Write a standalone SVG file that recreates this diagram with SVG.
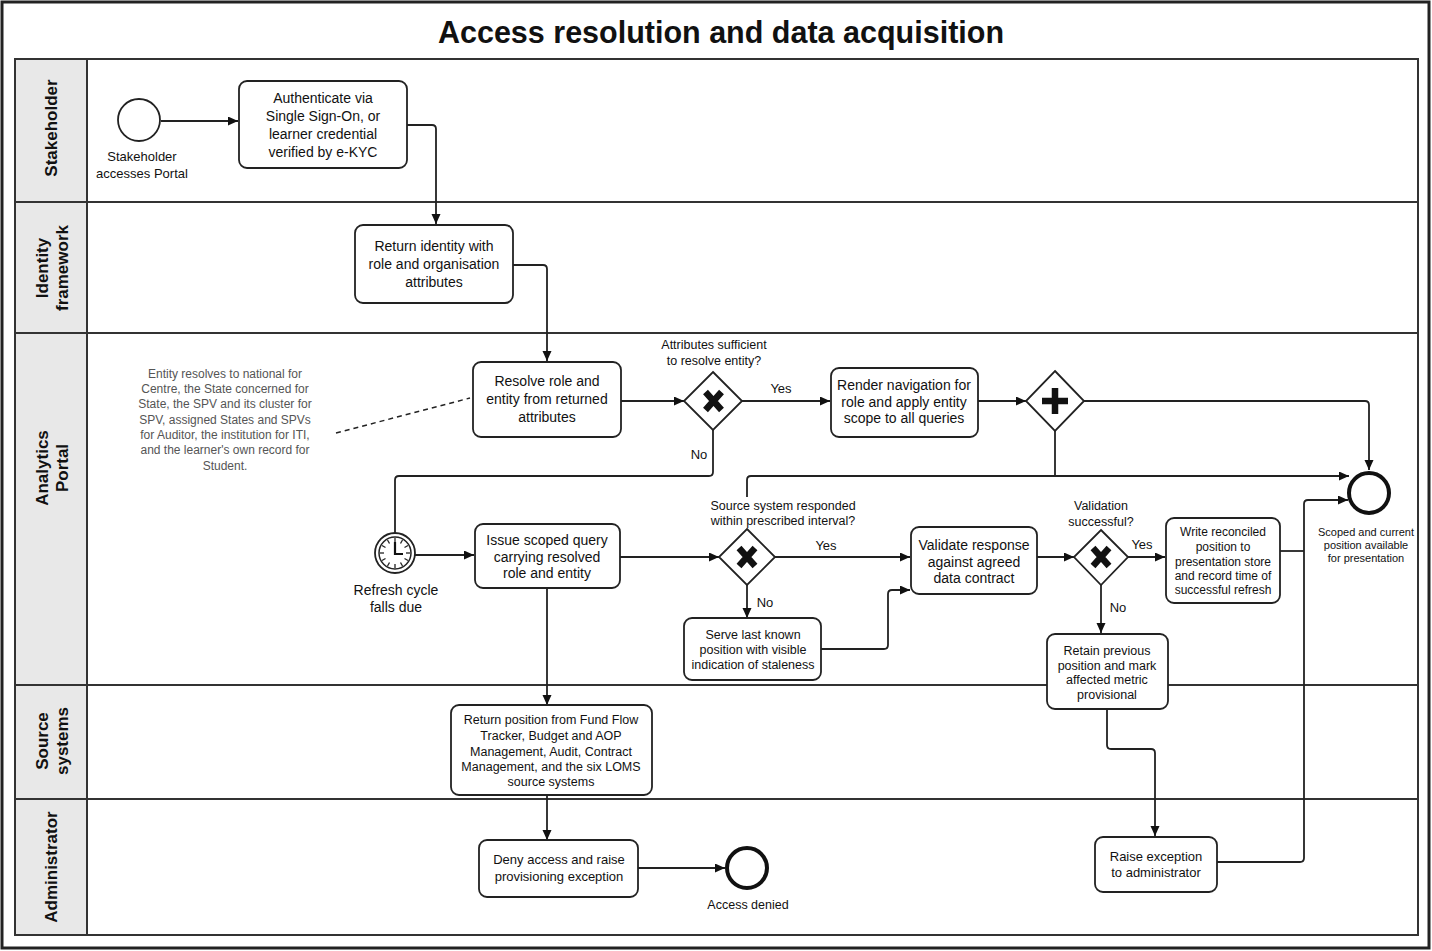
<svg xmlns="http://www.w3.org/2000/svg" width="1432" height="951" viewBox="0 0 1432 951">
<style>
text{font-family:"Liberation Sans",Arial,sans-serif;fill:#111;text-anchor:middle}
.title{font-size:30.5px;font-weight:bold}
.lane{font-size:17px;font-weight:bold}
.t14{font-size:14px}
.t13{font-size:13px}
.t125{font-size:12.5px}
.t12{font-size:12px}
.t11{font-size:11px}
.note{font-size:12px;fill:#555}
.box{fill:#fff;stroke:#222;stroke-width:1.8}
.gw{fill:#fff;stroke:#222;stroke-width:1.8}
.mk{stroke:#111;stroke-width:6.5;fill:none}
.ev{fill:#fff;stroke:#222;stroke-width:1.8}
.end{fill:#fff;stroke:#111;stroke-width:4}
.c{fill:none;stroke:#222;stroke-width:1.8}
.a{marker-end:url(#arr)}
</style>
<defs>
<marker id="arr" markerUnits="userSpaceOnUse" markerWidth="11" markerHeight="10" refX="10" refY="4.5" orient="auto">
<path d="M0,0 L10,4.5 L0,9 z" fill="#111"/>
</marker>
</defs>
<rect x="2" y="2" width="1427" height="946" fill="#fff" stroke="#222" stroke-width="3"/>
<text class="title" x="721" y="43">Access resolution and data acquisition</text>
<g id="pool">
<rect x="15" y="59" width="1403" height="876" fill="#fff" stroke="#333" stroke-width="2"/>
<rect x="15" y="59" width="72" height="876" fill="#e8e8e8" stroke="#333" stroke-width="2"/>
<path d="M15,202 H1418 M15,333 H1418 M15,685 H1418 M15,799 H1418" stroke="#333" stroke-width="2" fill="none"/>
</g>
<g id="lane-stakeholder"><text class="lane" transform="translate(57,128) rotate(-90)">Stakeholder</text></g>
<g id="lane-identity"><text class="lane" transform="translate(48,268) rotate(-90)">Identity</text><text class="lane" transform="translate(68,268) rotate(-90)">framework</text></g>
<g id="lane-portal"><text class="lane" transform="translate(48,468) rotate(-90)">Analytics</text><text class="lane" transform="translate(68,468) rotate(-90)">Portal</text></g>
<g id="lane-source"><text class="lane" transform="translate(48,741) rotate(-90)">Source</text><text class="lane" transform="translate(68,741) rotate(-90)">systems</text></g>
<g id="lane-admin"><text class="lane" transform="translate(57,867) rotate(-90)">Administrator</text></g>

<g id="connectors">
<path class="c a" d="M161,121 H238"/>
<path class="c a" d="M407,125 H432 Q436,125 436,129 V224"/>
<path class="c a" d="M513,265 H543 Q547,265 547,269 V361"/>
<path class="c a" d="M621,401 H684"/>
<path class="c a" d="M742,401 H830"/>
<path class="c" d="M713,430 V472 Q713,476 709,476 H399 Q395,476 395,480 V533"/>
<path class="c a" d="M978,401 H1026"/>
<path class="c a" d="M1084,401 H1365 Q1369,401 1369,405 V470"/>
<path class="c" d="M1055,431 V476"/>
<path class="c a" d="M747,497 V480 Q747,476 751,476 H1349"/>
<path class="c a" d="M415,555 H474"/>
<path class="c a" d="M620,557 H719"/>
<path class="c a" d="M775,557 H910"/>
<path class="c a" d="M747,585 V618"/>
<path class="c a" d="M821,649 H884 Q888,649 888,645 V594 Q888,590 892,590 H910"/>
<path class="c a" d="M547,588 V705"/>
<path class="c a" d="M547,795 V840"/>
<path class="c a" d="M638,868 H725"/>
<path class="c a" d="M1037,557 H1074"/>
<path class="c a" d="M1128,557 H1165"/>
<path class="c a" d="M1101,585 V633"/>
<path class="c" d="M1280,551 H1304"/>
<path class="c a" d="M1217,862 H1300 Q1304,862 1304,858 V504 Q1304,500 1308,500 H1348"/>
<path class="c a" d="M1107,709 V745 Q1107,749 1111,749 H1151 Q1155,749 1155,753 V836"/>
<path d="M336,433 L470,398" fill="none" stroke="#222" stroke-width="1.5" stroke-dasharray="5,4"/>
</g>

<g id="start">
<circle class="ev" cx="139" cy="120" r="21"/>
<text class="t13" x="142" y="161">Stakeholder</text>
<text class="t13" x="142" y="178">accesses Portal</text>
</g>
<g id="authenticate">
<rect class="box" x="239" y="81" width="168" height="87" rx="8"/>
<text class="t14" x="323" y="103">Authenticate via</text>
<text class="t14" x="323" y="121">Single Sign-On, or</text>
<text class="t14" x="323" y="139">learner credential</text>
<text class="t14" x="323" y="157">verified by e-KYC</text>
</g>
<g id="return-identity">
<rect class="box" x="355" y="225" width="158" height="78" rx="8"/>
<text class="t14" x="434" y="251">Return identity with</text>
<text class="t14" x="434" y="269">role and organisation</text>
<text class="t14" x="434" y="287">attributes</text>
</g>
<g id="annotation">
<text class="note" x="225" y="378">Entity resolves to national for</text>
<text class="note" x="225" y="393">Centre, the State concerned for</text>
<text class="note" x="225" y="408">State, the SPV and its cluster for</text>
<text class="note" x="225" y="424">SPV, assigned States and SPVs</text>
<text class="note" x="225" y="439">for Auditor, the institution for ITI,</text>
<text class="note" x="225" y="454">and the learner's own record for</text>
<text class="note" x="225" y="470">Student.</text>
</g>
<g id="resolve">
<rect class="box" x="473" y="362" width="148" height="75" rx="8"/>
<text class="t14" x="547" y="386">Resolve role and</text>
<text class="t14" x="547" y="404">entity from returned</text>
<text class="t14" x="547" y="422">attributes</text>
</g>
<g id="gw-attributes">
<polygon class="gw" points="713,372 742,401 713,430 684,401"/>
<path class="mk" d="M705.5,392 L721.5,410 M721.5,392 L705.5,410"/>
<text class="t125" x="714" y="349">Attributes sufficient</text>
<text class="t125" x="714" y="365">to resolve entity?</text>
<text class="t13" x="781" y="393">Yes</text>
<text class="t13" x="699" y="459">No</text>
</g>
<g id="render">
<rect class="box" x="831" y="368" width="147" height="69" rx="8"/>
<text class="t14" x="904" y="390">Render navigation for</text>
<text class="t14" x="904" y="407">role and apply entity</text>
<text class="t14" x="904" y="423">scope to all queries</text>
</g>
<g id="gw-parallel">
<polygon class="gw" points="1055,371 1084,401 1055,431 1026,401"/>
<path d="M1042,401 H1068 M1055,388 V414" stroke="#111" stroke-width="6.5" fill="none"/>
</g>
<g id="end-scoped">
<circle class="end" cx="1369" cy="493" r="20"/>
<text class="t11" x="1366" y="536">Scoped and current</text>
<text class="t11" x="1366" y="549">position available</text>
<text class="t11" x="1366" y="562">for presentation</text>
</g>
<g id="timer">
<circle class="ev" cx="395" cy="553" r="20"/>
<circle cx="395" cy="553" r="16" fill="#fff" stroke="#222" stroke-width="1.5"/>
<g stroke="#222" stroke-width="1.3">
<line x1="395" y1="538" x2="395" y2="542"/>
<line x1="395" y1="564" x2="395" y2="568"/>
<line x1="380" y1="553" x2="384" y2="553"/>
<line x1="406" y1="553" x2="410" y2="553"/>
<line x1="402.5" y1="540" x2="400.5" y2="543.5"/>
<line x1="408" y1="545.5" x2="404.5" y2="547.5"/>
<line x1="387.5" y1="540" x2="389.5" y2="543.5"/>
<line x1="382" y1="545.5" x2="385.5" y2="547.5"/>
<line x1="402.5" y1="566" x2="400.5" y2="562.5"/>
<line x1="408" y1="560.5" x2="404.5" y2="558.5"/>
<line x1="387.5" y1="566" x2="389.5" y2="562.5"/>
<line x1="382" y1="560.5" x2="385.5" y2="558.5"/>
</g>
<path d="M395,542 V554 H403" fill="none" stroke="#111" stroke-width="2.2"/>
<text class="t14" x="396" y="595">Refresh cycle</text>
<text class="t14" x="396" y="612">falls due</text>
</g>
<g id="issue">
<rect class="box" x="475" y="524" width="145" height="64" rx="8"/>
<text class="t14" x="547" y="545">Issue scoped query</text>
<text class="t14" x="547" y="562">carrying resolved</text>
<text class="t14" x="547" y="578">role and entity</text>
</g>
<g id="gw-responded">
<polygon class="gw" points="747,529 775,557 747,585 719,557"/>
<path class="mk" d="M739,548 L755,566 M755,548 L739,566"/>
<text class="t125" x="783" y="510">Source system responded</text>
<text class="t125" x="783" y="525">within prescribed interval?</text>
<text class="t13" x="826" y="550">Yes</text>
<text class="t13" x="765" y="607">No</text>
</g>
<g id="serve">
<rect class="box" x="684" y="618" width="137" height="62" rx="8"/>
<text class="t125" x="753" y="639">Serve last known</text>
<text class="t125" x="753" y="654">position with visible</text>
<text class="t125" x="753" y="669">indication of staleness</text>
</g>
<g id="validate">
<rect class="box" x="911" y="527" width="126" height="67" rx="8"/>
<text class="t14" x="974" y="550">Validate response</text>
<text class="t14" x="974" y="567">against agreed</text>
<text class="t14" x="974" y="583">data contract</text>
</g>
<g id="gw-validation">
<polygon class="gw" points="1101,530 1128,557 1101,585 1074,557"/>
<path class="mk" d="M1093,548 L1109,566 M1109,548 L1093,566"/>
<text class="t125" x="1101" y="510">Validation</text>
<text class="t125" x="1101" y="526">successful?</text>
<text class="t13" x="1142" y="549">Yes</text>
<text class="t13" x="1118" y="612">No</text>
</g>
<g id="write">
<rect class="box" x="1166" y="518" width="114" height="85" rx="8"/>
<text class="t12" x="1223" y="536">Write reconciled</text>
<text class="t12" x="1223" y="551">position to</text>
<text class="t12" x="1223" y="566">presentation store</text>
<text class="t12" x="1223" y="580">and record time of</text>
<text class="t12" x="1223" y="594">successful refresh</text>
</g>
<g id="retain">
<rect class="box" x="1047" y="634" width="121" height="75" rx="8"/>
<text class="t125" x="1107" y="655">Retain previous</text>
<text class="t125" x="1107" y="670">position and mark</text>
<text class="t125" x="1107" y="684">affected metric</text>
<text class="t125" x="1107" y="699">provisional</text>
</g>
<g id="return-position">
<rect class="box" x="451" y="705" width="201" height="90" rx="8"/>
<text class="t125" x="551" y="724">Return position from Fund Flow</text>
<text class="t125" x="551" y="740">Tracker, Budget and AOP</text>
<text class="t125" x="551" y="756">Management, Audit, Contract</text>
<text class="t125" x="551" y="771">Management, and the six LOMS</text>
<text class="t125" x="551" y="786">source systems</text>
</g>
<g id="deny">
<rect class="box" x="479" y="840" width="159" height="57" rx="8"/>
<text class="t13" x="559" y="864">Deny access and raise</text>
<text class="t13" x="559" y="881">provisioning exception</text>
</g>
<g id="end-denied">
<circle class="end" cx="747" cy="868" r="20"/>
<text class="t125" x="748" y="909">Access denied</text>
</g>
<g id="raise">
<rect class="box" x="1095" y="837" width="122" height="55" rx="8"/>
<text class="t13" x="1156" y="861">Raise exception</text>
<text class="t13" x="1156" y="877">to administrator</text>
</g>
</svg>
